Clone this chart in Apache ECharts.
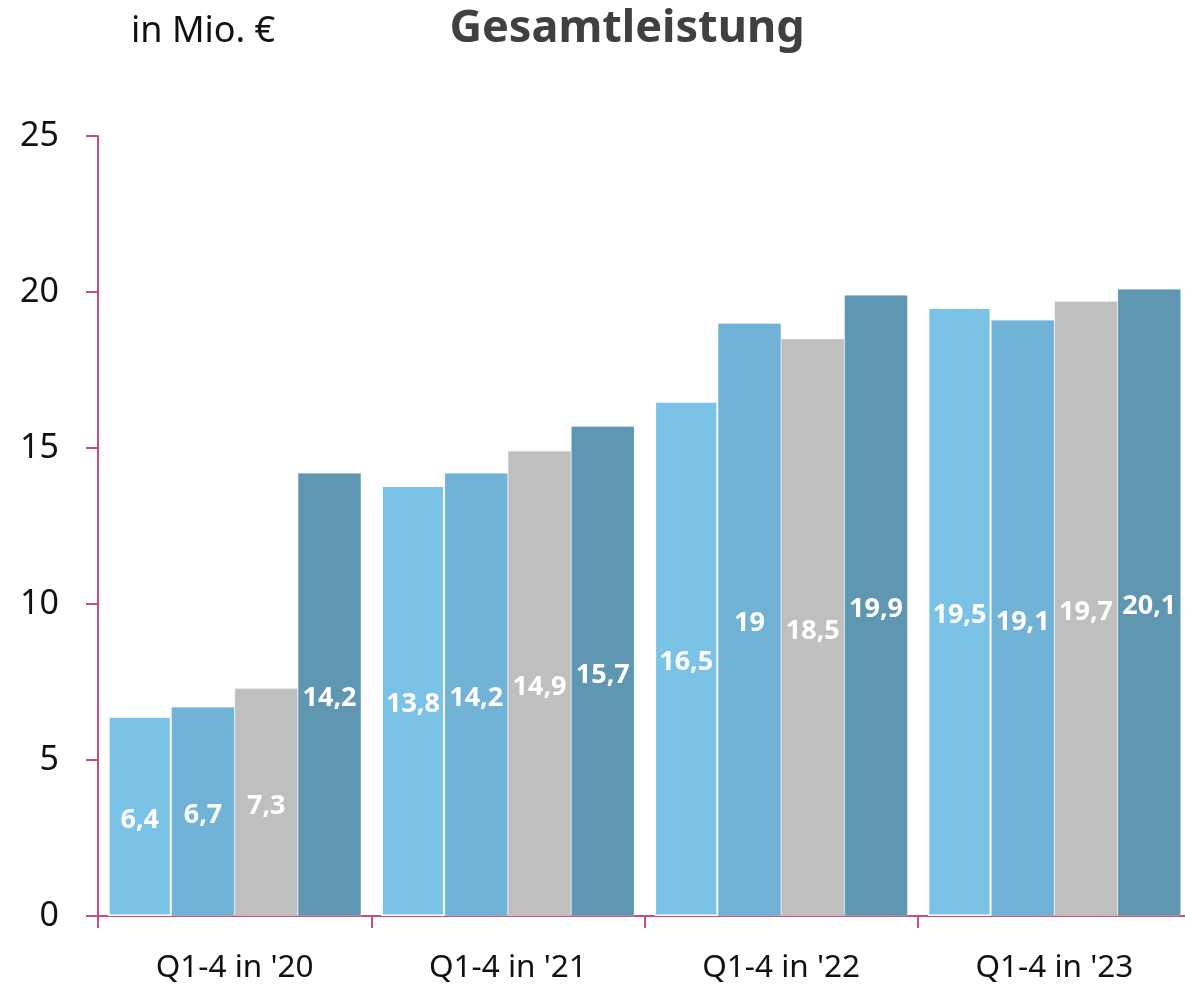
<!DOCTYPE html>
<html>
<head>
<meta charset="utf-8">
<script src="https://cdn.jsdelivr.net/npm/echarts@6/dist/echarts.min.js"></script>
<style>
html,body{margin:0;padding:0;background:#fff;overflow:hidden;}
#chart{width:1195px;height:985px;}
</style>
</head>
<body>
<div id="chart"></div>
<script>
const categories = ["Q1-4 in '20", "Q1-4 in '21", "Q1-4 in '22", "Q1-4 in '23"];
const q1 = [6.4, 13.8, 16.5, 19.5];
const q2 = [6.7, 14.2, 19.0, 19.1];
const q3 = [7.3, 14.9, 18.5, 19.7];
const q4 = [14.2, 15.7, 19.9, 20.1];
const seriesNames = ['Q1', 'Q2', 'Q3', 'Q4'];
const seriesData = [q1, q2, q3, q4];
const colors = ['#7BC3E6', '#71B3D6', '#BFBFBF', '#5F96B2'];
const yTicks = [0, 5, 10, 15, 20, 25];

const fontFam = '"Noto Sans", "Open Sans", sans-serif';
const axisColor = '#C94D7A';

const chart = echarts.init(document.getElementById('chart'), null, {renderer: 'canvas'});
chart.setOption({
  animation: false,
  backgroundColor: '#ffffff',
  title: [
    {text: 'Gesamtleistung', left: 622, top: 2, textAlign: 'center',
     textStyle: {fontFamily: fontFam, fontSize: 45, fontWeight: 'bold', color: '#404040'}},
    {text: 'in Mio. €', left: 126, top: 9,
     textStyle: {fontFamily: fontFam, fontSize: 36, fontWeight: 'normal', color: '#111111'}}
  ],
  grid: {left: 98, width: 1093, top: 136, bottom: 69, containLabel: false},
  xAxis: {
    type: 'category',
    data: categories,
    axisLine: {show: true, lineStyle: {color: axisColor, width: 2}},
    axisTick: {show: true, length: 12, lineStyle: {color: axisColor, width: 2}},
    axisLabel: {fontFamily: fontFam, fontSize: 31.5, color: '#111111', margin: 36},
    splitLine: {show: false}
  },
  yAxis: {
    type: 'value',
    min: yTicks[0], max: yTicks[yTicks.length - 1], interval: 5,
    axisLine: {show: true, lineStyle: {color: axisColor, width: 2}},
    axisTick: {show: true, length: 12, lineStyle: {color: axisColor, width: 2}},
    axisLabel: {fontFamily: fontFam, fontSize: 34, color: '#111111', margin: 39},
    splitLine: {show: false}
  },
  series: seriesData.map((d, i) => ({
    name: seriesNames[i],
    type: 'bar',
    data: d,
    barGap: '0%',
    barCategoryGap: '7.4%',
    itemStyle: {color: colors[i], borderColor: i === 0 ? '#ffffff' : 'rgba(255,255,255,0.5)', borderWidth: i === 0 ? 1.5 : 0.5},
    label: {
      show: true, position: 'inside', offset: [0, 4],
      fontFamily: fontFam, fontSize: 27, fontWeight: 'bold', color: '#ffffff',
      formatter: p => String(p.value).replace('.', ',')
    }
  }))
});
</script>
</body>
</html>
